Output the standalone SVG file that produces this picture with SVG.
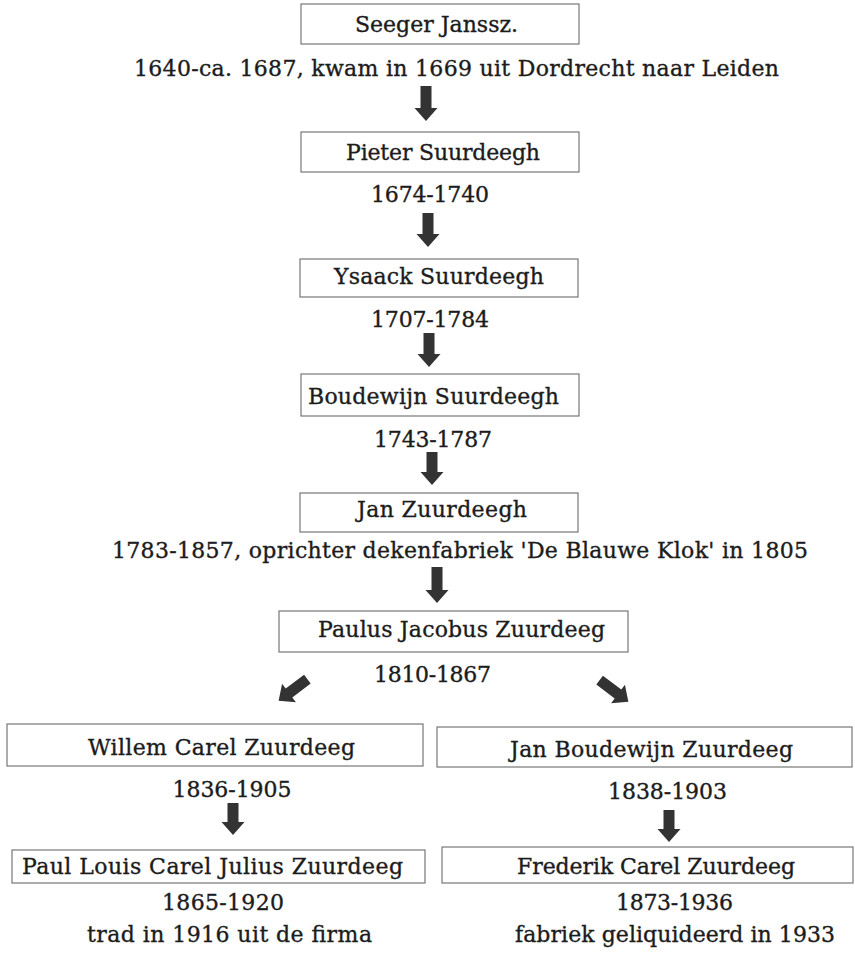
<svg xmlns="http://www.w3.org/2000/svg" width="855" height="959" viewBox="0 0 855 959">
<style>
  .box { fill: #ffffff; stroke: #777; stroke-width: 1.2; }
  .t { font-family: "DejaVu Serif", "Liberation Serif", serif; font-size: 22px; fill: #1c1c1c; stroke: #1c1c1c; stroke-width: 0.35; text-anchor: middle; }
  .arr { fill: #333; }
</style>
<defs>
  <polygon id="diag" points="-5.5,-18 5.5,-18 5.5,5 11.5,5 0,18 -11.5,5 -5.5,5"/>
</defs>
<rect width="855" height="959" fill="#ffffff"/>

<g id="connectors">
  <polygon class="arr" points="420.5,86 431.5,86 431.5,108 437.5,108 426,121 414.5,108 420.5,108"/>
  <polygon class="arr" points="422.5,213 433.5,213 433.5,234 439.5,234 428,247 416.5,234 422.5,234"/>
  <polygon class="arr" points="423.5,333 434.5,333 434.5,354 440.5,354 429,367 417.5,354 423.5,354"/>
  <polygon class="arr" points="426.5,452 437.5,452 437.5,472 443.5,472 432,485 420.5,472 426.5,472"/>
  <polygon class="arr" points="431.5,567 442.5,567 442.5,590 448.5,590 437,603 425.5,590 431.5,590"/>
  <use href="#diag" class="arr" transform="translate(293,690) rotate(53)"/>
  <use href="#diag" class="arr" transform="translate(614,691) rotate(-53)"/>
  <polygon class="arr" points="227.5,803 238.5,803 238.5,822 244.5,822 233,835 221.5,822 227.5,822"/>
  <polygon class="arr" points="663.5,810 674.5,810 674.5,829 680.5,829 669,842 657.5,829 663.5,829"/>
</g>

<g id="seeger">
  <rect class="box" x="301" y="4" width="278" height="40"/>
  <text class="t" x="436.5" y="32" textLength="163">Seeger Janssz.</text>
  <text class="t" x="456.5" y="76" textLength="645">1640-ca. 1687, kwam in 1669 uit Dordrecht naar Leiden</text>
</g>

<g id="pieter">
  <rect class="box" x="301" y="132" width="278" height="40"/>
  <text class="t" x="443" y="160" textLength="194">Pieter Suurdeegh</text>
  <text class="t" x="430" y="202" textLength="118">1674-1740</text>
</g>

<g id="ysaack">
  <rect class="box" x="300" y="259" width="278" height="38"/>
  <text class="t" x="439" y="284" textLength="210">Ysaack Suurdeegh</text>
  <text class="t" x="430" y="327" textLength="118">1707-1784</text>
</g>

<g id="boudewijn">
  <rect class="box" x="301" y="374" width="278" height="42"/>
  <text class="t" x="433.5" y="404" textLength="251">Boudewijn Suurdeegh</text>
  <text class="t" x="433" y="447" textLength="118">1743-1787</text>
</g>

<g id="jan">
  <rect class="box" x="300" y="493" width="278" height="39"/>
  <text class="t" x="442" y="517" textLength="170">Jan Zuurdeegh</text>
  <text class="t" x="460" y="558" textLength="696">1783-1857, oprichter dekenfabriek 'De Blauwe Klok' in 1805</text>
</g>

<g id="paulus">
  <rect class="box" x="279" y="611" width="349" height="41"/>
  <text class="t" x="461.5" y="637" textLength="287">Paulus Jacobus Zuurdeeg</text>
  <text class="t" x="432.5" y="682" textLength="117">1810-1867</text>
</g>

<g id="willem">
  <rect class="box" x="7" y="724" width="416" height="42"/>
  <text class="t" x="221.5" y="755" textLength="267">Willem Carel Zuurdeeg</text>
  <text class="t" x="232" y="797" textLength="119">1836-1905</text>
</g>

<g id="janboudewijn">
  <rect class="box" x="437" y="727" width="415" height="40"/>
  <text class="t" x="651.5" y="757" textLength="283">Jan Boudewijn Zuurdeeg</text>
  <text class="t" x="667.5" y="799" textLength="119">1838-1903</text>
</g>

<g id="paullouis">
  <rect class="box" x="12" y="850" width="413" height="33"/>
  <text class="t" x="212.5" y="874" textLength="381">Paul Louis Carel Julius Zuurdeeg</text>
  <text class="t" x="223" y="910" textLength="122">1865-1920</text>
  <text class="t" x="229.5" y="942" textLength="285">trad in 1916 uit de firma</text>
</g>

<g id="frederik">
  <rect class="box" x="442" y="847" width="411" height="36"/>
  <text class="t" x="656" y="874" textLength="278">Frederik Carel Zuurdeeg</text>
  <text class="t" x="674.5" y="910" textLength="117">1873-1936</text>
  <text class="t" x="675" y="942" textLength="320">fabriek geliquideerd in 1933</text>
</g>
</svg>
